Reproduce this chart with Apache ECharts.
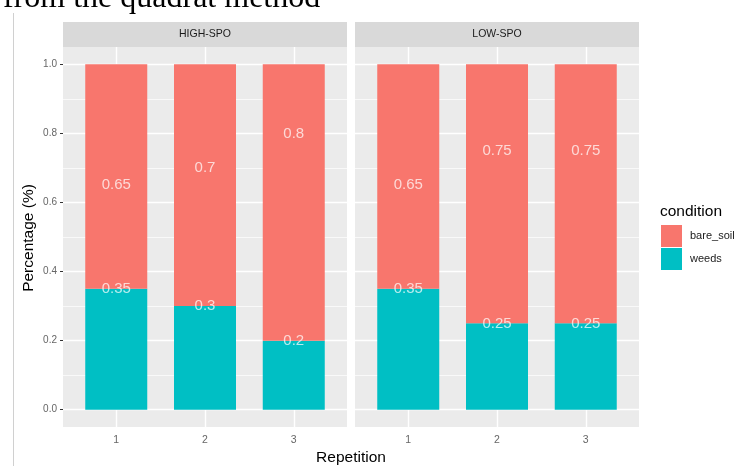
<!DOCTYPE html>
<html><head><meta charset="utf-8">
<script src="https://cdn.jsdelivr.net/npm/echarts@6/dist/echarts.min.js"></script>
<style>html,body{margin:0;padding:0;background:#fff}#c{width:736px;height:466px}</style>
</head><body><div id="c"></div>
<script>
const categories = ['1', '2', '3'];
const xPositions = [1, 2, 3];
const panels = ['HIGH-SPO', 'LOW-SPO'];
const highWeeds = [0.35, 0.3, 0.2];
const highBare = [0.65, 0.7, 0.8];
const lowWeeds = [0.35, 0.25, 0.25];
const lowBare = [0.65, 0.75, 0.75];
const yTicks = [0, 0.2, 0.4, 0.6, 0.8, 1.0];
const yMinor = [0.1, 0.3, 0.5, 0.7, 0.9];
const seriesNames = ['bare_soil', 'weeds'];

const RED = '#F8766D', TEAL = '#00BFC4';
const panelData = [[highWeeds, highBare], [lowWeeds, lowBare]];
const gridLefts = [63, 355];
const gridW = 284, gridTop = 47, gridH = 380;

const chart = echarts.init(document.getElementById('c'), null, {renderer: 'canvas'});

const grids = [], xAxes = [], yAxes = [], series = [], graphics = [];
panels.forEach((p, i) => {
  grids.push({left: gridLefts[i], top: gridTop, width: gridW, height: gridH,
    show: true, backgroundColor: '#EBEBEB', borderWidth: 0});
  xAxes.push({type: 'value', gridIndex: i, min: 0.4, max: 3.6,
    splitLine: {show: false}, axisLine: {show: false},
    axisTick: {show: true, customValues: xPositions, length: 3, lineStyle: {color: '#333', width: 1}},
    axisLabel: {show: true, customValues: xPositions, color: '#666', fontSize: 10.5,
      fontFamily: 'Liberation Sans', margin: 8, formatter: v => categories[xPositions.indexOf(v)]}
  });
  yAxes.push({type: 'value', gridIndex: i, min: -0.05, max: 1.05,
    splitLine: {show: false}, axisLine: {show: false},
    axisTick: {show: i === 0, customValues: yTicks, length: 3, lineStyle: {color: '#333', width: 1}},
    axisLabel: {show: i === 0, customValues: yTicks, color: '#666', fontSize: 10,
      fontFamily: 'Liberation Sans', margin: 6, formatter: v => v.toFixed(1)}
  });
  const lines = [];
  yMinor.forEach(v => lines.push({yAxis: v, lineStyle: {color: '#fff', width: 0.7, type: 'solid'}}));
  yTicks.forEach(v => lines.push({yAxis: v, lineStyle: {color: '#fff', width: 1.4, type: 'solid'}}));
  xPositions.forEach(v => lines.push({xAxis: v, lineStyle: {color: '#fff', width: 1.4, type: 'solid'}}));
  series.push({type: 'line', name: '_grid' + i, xAxisIndex: i, yAxisIndex: i, z: 1,
    data: [[1, 0]], symbol: 'none', lineStyle: {opacity: 0}, silent: true,
    markLine: {z: 1, silent: true, symbol: ['none', 'none'], label: {show: false}, animation: false, data: lines}});
  const [weeds, bare] = panelData[i];
  // data as [value, x] so the stacked dimension is the value
  series.push({type: 'bar', name: 'weeds', stack: 's' + i, xAxisIndex: i, yAxisIndex: i, z: 3,
    barWidth: 62, itemStyle: {color: TEAL}, encode: {x: 1, y: 0},
    data: xPositions.map((x, k) => [weeds[k], x])});
  series.push({type: 'bar', name: 'bare_soil', stack: 's' + i, xAxisIndex: i, yAxisIndex: i, z: 3,
    barWidth: 62, itemStyle: {color: RED}, encode: {x: 1, y: 0},
    data: xPositions.map((x, k) => [bare[k], x])});
  const labelPts = [];
  xPositions.forEach((x, k) => { labelPts.push([x, weeds[k]]); labelPts.push([x, bare[k]]); });
  series.push({type: 'scatter', name: '_lab' + i, xAxisIndex: i, yAxisIndex: i, z: 6,
    symbolSize: 1, itemStyle: {color: 'transparent'}, silent: true, data: labelPts,
    label: {show: true, position: 'inside', color: 'rgba(255,255,255,0.9)', fontSize: 15,
      fontFamily: 'Liberation Sans', formatter: d => String(d.value[1])}});
  graphics.push({type: 'rect', left: gridLefts[i], top: 22, shape: {width: gridW, height: 25},
    style: {fill: '#D9D9D9'}, z: 0});
  graphics.push({type: 'text', x: gridLefts[i] + gridW / 2, y: 34.5,
    style: {text: p, fill: '#1A1A1A', fontSize: 10.5, fontFamily: 'Liberation Sans', align: 'center', verticalAlign: 'middle'}, z: 1});
});

graphics.push({type: 'line', shape: {x1: 13.5, y1: 13, x2: 13.5, y2: 466}, style: {stroke: '#D0D0D0', lineWidth: 1}});
graphics.push({type: 'text', x: 3, y: -1, style: {text: 'from the quadrat method', fill: '#000', fontSize: 32,
  fontFamily: 'Liberation Serif', verticalAlign: 'middle', align: 'left'}});
graphics.push({type: 'text', x: 28.5, y: 238, rotation: Math.PI / 2,
  style: {text: 'Percentage (%)', fill: '#000', fontSize: 15.5, fontFamily: 'Liberation Sans', align: 'center', verticalAlign: 'middle'}});
graphics.push({type: 'text', x: 351, y: 458, style: {text: 'Repetition', fill: '#000', fontSize: 15.5,
  fontFamily: 'Liberation Sans', align: 'center', verticalAlign: 'middle'}});
graphics.push({type: 'text', x: 660, y: 212, style: {text: 'condition', fill: '#000', fontSize: 15.5,
  fontFamily: 'Liberation Sans', align: 'left', verticalAlign: 'middle'}});

chart.setOption({
  animation: false,
  grid: grids, xAxis: xAxes, yAxis: yAxes, series: series,
  legend: {data: seriesNames, orient: 'vertical', left: 661, top: 225, itemWidth: 21, itemHeight: 22,
    itemGap: 1, icon: 'rect', padding: 0, selectedMode: false,
    textStyle: {fontSize: 11, color: '#1A1A1A', fontFamily: 'Liberation Sans', padding: [0, 0, 0, 3]}},
  graphic: graphics
});
</script></body></html>
